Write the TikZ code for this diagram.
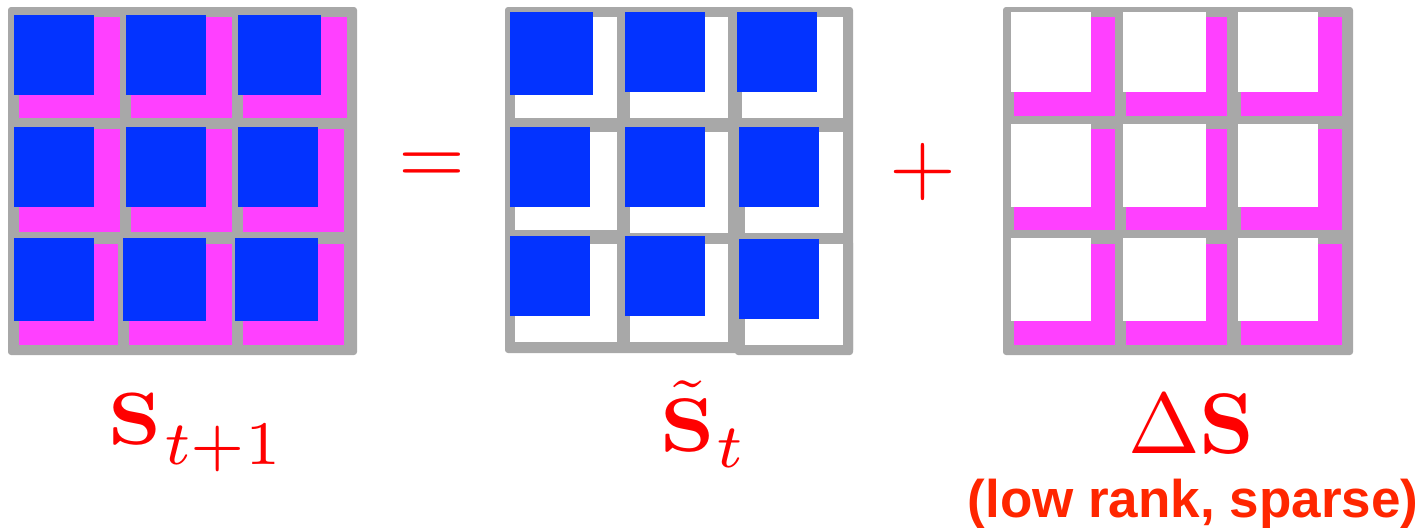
\documentclass[tikz,border=0pt]{standalone}
\usepackage[no-math]{fontspec}
\newfontfamily\notefont{Liberation Sans}
\DeclareFontFamily{OT1}{cmr}{\hyphenchar\font45 }
\DeclareFontShape{OT1}{cmr}{m}{n}{<-65>cmr7 <65->cmr10}{}
\DeclareFontShape{OT1}{cmr}{bx}{n}{<-65>cmbx7 <65->cmbx10}{}
\DeclareFontFamily{OML}{cmm}{\skewchar\font127 }
\DeclareFontShape{OML}{cmm}{m}{it}{<-65>cmmi7 <65->cmmi10}{}
\DeclareFontFamily{OMS}{cmsy}{\skewchar\font48 }
\DeclareFontShape{OMS}{cmsy}{m}{n}{<-65>cmsy7 <65->cmsy10}{}
\DeclareFontFamily{OMX}{cmex}{}
\DeclareFontShape{OMX}{cmex}{m}{n}{<->cmex10}{}
\definecolor{gridgray}{RGB}{168,168,168}
\definecolor{sqblue}{RGB}{3,51,255}
\definecolor{sqpink}{RGB}{255,64,255}
\definecolor{eqred}{RGB}{255,0,0}
\definecolor{notered}{RGB}{255,38,0}
\tikzset{
  frame/.style={fill=gridgray, rounded corners=3pt},
  pinkcell/.style={fill=sqpink},
  bluecell/.style={fill=sqblue},
  whitecell/.style={fill=white},
  mathlbl/.style={text=eqred, inner sep=0pt, anchor=base west},
  oplbl/.style={text=eqred, inner sep=0pt, anchor=base, font=\fontsize{86}{90}\selectfont},
}
\begin{document}
\begin{tikzpicture}[x=1pt,y=-1pt]
\useasboundingbox (0,0) rectangle (1419,528);
% ---------- grid 1: S_{t+1}
\fill[frame] (8,7) rectangle (357,355);
\foreach \a/\b/\c/\d in {19/17/120/118, 131/17/232/118, 243/17/347/118,
                         19/129/120/232, 131/129/232/232, 243/129/344/232,
                         19/244/118/345, 129/244/232/345, 243/244/344/345}
  \fill[pinkcell] (\a,\b) rectangle (\c,\d);
\foreach \a/\b/\c/\d in {14/15/94/95, 126/15/206/95, 238/15/321/95,
                         14/127/94/207, 126/127/206/207, 238/127/318/207,
                         14/238/94/321, 123/238/206/321, 235/238/318/321}
  \fill[bluecell] (\a,\b) rectangle (\c,\d);
% ---------- grid 2: tilde S_t
\fill[frame] (505,7) rectangle (853,353);
\fill[frame] (735,240) rectangle (853,355);
\foreach \a/\b/\c/\d in {515/17/617/118, 630/17/728/118, 742/17/843/118,
                         515/132/617/230, 630/132/728/233, 745/132/843/233,
                         515/244/617/342, 630/244/728/342, 745/244/843/345}
  \fill[whitecell] (\a,\b) rectangle (\c,\d);
\foreach \a/\b/\c/\d in {510/12/593/95, 625/12/705/92, 737/12/817/92,
                         510/127/590/207, 625/127/705/207, 739/127/819/207,
                         510/236/590/316, 625/236/705/316, 739/239/819/319}
  \fill[bluecell] (\a,\b) rectangle (\c,\d);
% ---------- grid 3: Delta S
\fill[frame] (1003,7) rectangle (1353,355);
\foreach \a/\c/\wa/\wc in {1014/1115/1011/1091, 1126/1227/1123/1206, 1241/1342/1238/1318}
  \foreach \b/\d/\wb/\wd in {17/116/12/92, 129/230/124/207, 244/345/238/321}
  {
    \fill[pinkcell] (\a,\b) rectangle (\c,\d);
    \fill[whitecell] (\wa,\wb) rectangle (\wc,\wd);
  }
% ---------- operators
\node[oplbl] (eq) at (432,184) {$=$};
\node[oplbl] (plus) at (923,193) {$+$};
% ---------- labels
\node[mathlbl, font=\fontsize{74}{80}\selectfont] (lblA) at (108,444)
  {\scalebox{1.12}[1]{$\mathbf{S}$}\hspace{3pt}\raisebox{-20pt}{\fontsize{62}{62}\selectfont$t{+}1$}};
\node[mathlbl, font=\fontsize{76}{84}\selectfont] (lblB) at (660,451)
  {\scalebox{1.12}[1]{$\tilde{\mathbf{S}}$}\hspace{2pt}\raisebox{-16pt}{\fontsize{62}{62}\selectfont$t$}};
\node[mathlbl, font=\fontsize{86}{90}\selectfont] (lblC) at (1128,453) {$\Delta\mathbf{S}$};
\node[text=notered, inner sep=0pt, anchor=base, font=\notefont\bfseries\fontsize{53}{56}\selectfont] (note) at (1193,517) {(low rank, sparse)};
\end{tikzpicture}
\end{document}
